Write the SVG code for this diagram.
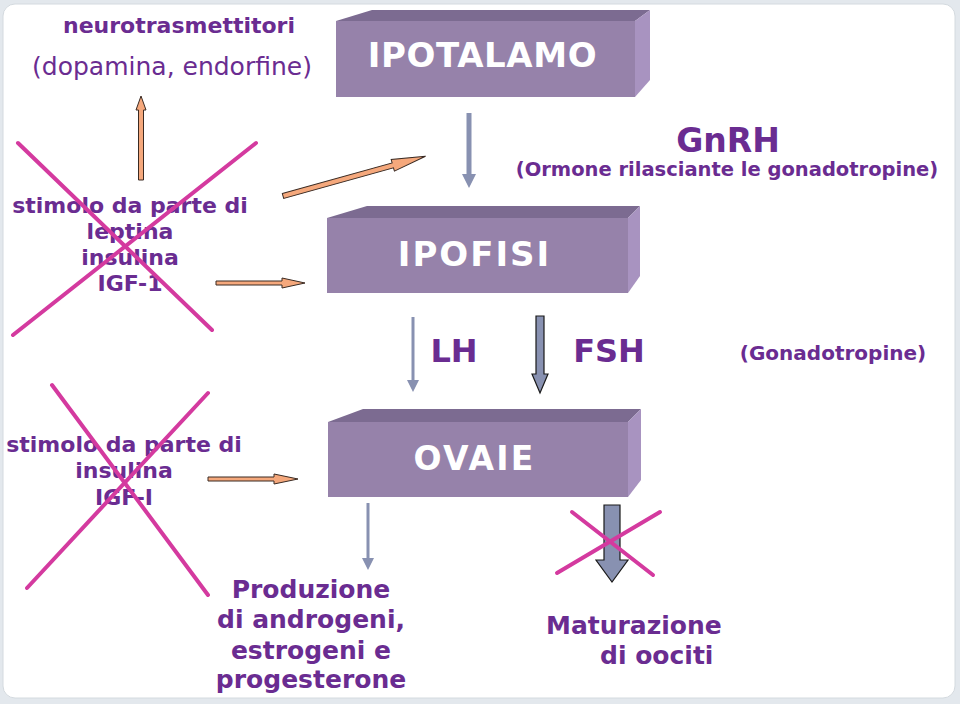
<svg xmlns="http://www.w3.org/2000/svg" width="960" height="704" viewBox="0 0 960 704">
<style>
.t{font-family:"DejaVu Sans","Liberation Sans",sans-serif;fill:#6a2c91;font-weight:bold}
.r{font-weight:normal}
.bt{font-family:"DejaVu Sans","Liberation Sans",sans-serif;fill:#ffffff;font-weight:bold;text-anchor:middle}
.front{fill:#9682aa}
.top{fill:#7c6b91}
.side{fill:#a893c0}
.org{fill:#f5a87c;stroke:#3a2a22;stroke-width:1}
.gb{fill:#8891b1}
.blk{fill:#8891b1;stroke:#1a1a1a;stroke-width:1.2}
.x{stroke:#d43a9f;stroke-width:4;stroke-linecap:round;fill:none}
</style>
<rect x="0" y="0" width="960" height="704" fill="#e3e8ed"/>
<rect x="3" y="4" width="952" height="694" rx="12" fill="#ffffff" stroke="#d4dadf" stroke-width="1"/>

<g id="neuro">
<text class="t" x="179" y="33" font-size="22" text-anchor="middle">neurotrasmettitori</text>
<text class="t r" x="172" y="75" font-size="25" text-anchor="middle">(dopamina, endorfine)</text>
</g>

<g id="ipotalamo">
<rect class="front" x="336" y="21" width="299" height="76"/>
<polygon class="top" points="336,21 372,10 650,10 635,21"/>
<polygon class="side" points="635,21 650,10 650,80 635,97"/>
<text class="bt" x="482.5" y="67" font-size="34" letter-spacing="0.6">IPOTALAMO</text>
</g>

<g id="gnrh">
<text class="t" x="728" y="152" font-size="33" text-anchor="middle">GnRH</text>
<text class="t" x="727" y="176" font-size="19.5" text-anchor="middle">(Ormone rilasciante le gonadotropine)</text>
</g>

<g id="stimolo1">
<text class="t" font-size="22" text-anchor="middle"><tspan x="130" y="213">stimolo da parte di</tspan><tspan x="130" y="239">leptina</tspan><tspan x="130" y="265">insulina</tspan><tspan x="130" y="291">IGF-1</tspan></text>
</g>

<g id="ipofisi">
<rect class="front" x="327" y="218" width="301" height="75"/>
<polygon class="top" points="327,218 367,206 640,206 628,218"/>
<polygon class="side" points="628,218 640,206 640,276 628,293"/>
<text class="bt" x="474.5" y="266" font-size="34" letter-spacing="2">IPOFISI</text>
</g>

<g id="gonadotropine">
<text class="t" x="454" y="362" font-size="32" text-anchor="middle">LH</text>
<text class="t" x="609" y="362" font-size="32" text-anchor="middle">FSH</text>
<text class="t" x="833" y="360" font-size="20" text-anchor="middle">(Gonadotropine)</text>
</g>

<g id="stimolo2">
<text class="t" font-size="22" text-anchor="middle"><tspan x="124" y="452">stimolo da parte di</tspan><tspan x="124" y="478">insulina</tspan><tspan x="124" y="505">IGF-I</tspan></text>
</g>

<g id="ovaie">
<rect class="front" x="328" y="422" width="300" height="75"/>
<polygon class="top" points="328,422 363,409 641,409 628,422"/>
<polygon class="side" points="628,422 641,409 641,480 628,497"/>
<text class="bt" x="474.5" y="470" font-size="33" letter-spacing="2.2">OVAIE</text>
</g>

<g id="produzione">
<text class="t" font-size="25" text-anchor="middle"><tspan x="311" y="598">Produzione</tspan><tspan x="311" y="628">di androgeni,</tspan><tspan x="311" y="659">estrogeni e</tspan><tspan x="311" y="688">progesterone</tspan></text>
</g>

<g id="maturazione">
<text class="t" font-size="25"><tspan x="546" y="634">Maturazione</tspan><tspan x="600" y="664">di oociti</tspan></text>
</g>

<g id="connectors">
<polygon class="org" points="138.5,180 138.5,110 136,110 141,96 146,110 143.5,110 143.5,180"/>
<g transform="translate(283,196) rotate(-15.6)">
<polygon class="org" points="0,-2.5 114,-2.5 114,-6 148,0 114,6 114,2.5 0,2.5"/>
</g>
<polygon class="org" points="216,281 282,281 282,278 305,283 282,288 282,285 216,285"/>
<polygon class="org" points="208,477 274,477 274,474 298,479 274,484 274,481 208,481"/>
<polygon class="gb" points="466.5,113 471.5,113 471.5,174 476,174 469,188 462,174 466.5,174"/>
<polygon class="gb" points="411.5,317 414.5,317 414.5,380 419,380 413,392 407,380 411.5,380"/>
<polygon class="blk" points="536,316 544,316 544,374 548,374 540,393 532,374 536,374"/>
<polygon class="gb" points="366.5,503 369.5,503 369.5,558 374,558 368,570 362,558 366.5,558"/>
<polygon class="blk" points="604,505 620,505 620,560 628,560 612,582 596,560 604,560"/>
</g>

<g id="crosses">
<line class="x" x1="18" y1="143" x2="212" y2="330"/>
<line class="x" x1="256" y1="143" x2="13" y2="335"/>
<line class="x" x1="52" y1="385" x2="208" y2="595"/>
<line class="x" x1="208" y1="393" x2="27" y2="588"/>
<line class="x" x1="572" y1="512" x2="653" y2="575"/>
<line class="x" x1="557" y1="573" x2="660" y2="512"/>
</g>
</svg>
